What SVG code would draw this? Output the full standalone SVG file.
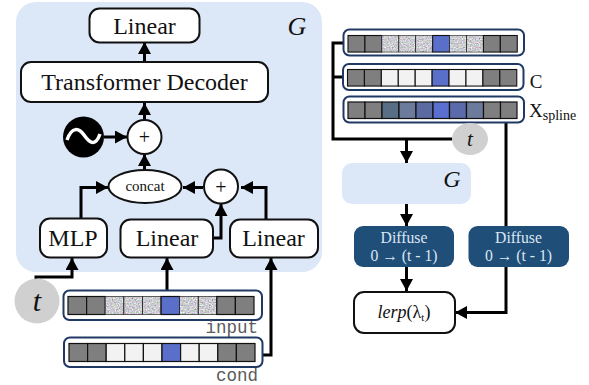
<svg xmlns="http://www.w3.org/2000/svg" width="589" height="385" viewBox="0 0 589 385">
<style>
text{font-family:"Liberation Serif","Times New Roman",serif;fill:#111;text-anchor:middle}
.box{fill:#fff;stroke:#111;stroke-width:2}
.lbl{font-size:24px}
.panel{fill:#dce7f7}
.bar{fill:#fff;stroke:#1f3864;stroke-width:2}
.cell{stroke:#111;stroke-width:1.2}
.g{fill:#7f7f7f}.w{fill:#f2f2f2}.b{fill:#5a6fc9}.n{fill:#ccc}
.e{fill:none;stroke:#222;stroke-width:.7}
.c{fill:none;stroke:#000;stroke-width:3}
.diff{fill:#1f4e79}
.dt{fill:#dce6f2;font-size:15.700px}
.mono{font-family:"Liberation Mono",monospace;font-size:17.500px;fill:#5a5a5a;text-anchor:end}
.ital{font-style:italic}
</style>
<defs>
<marker id="a" markerUnits="userSpaceOnUse" markerWidth="14" markerHeight="14" refX="12" refY="6.5" orient="auto"><path d="M0 0L12 6.5L0 13Z" fill="#000"/></marker>
<filter id="noise" x="0" y="0" width="1" height="1" color-interpolation-filters="sRGB">
<feTurbulence type="fractalNoise" baseFrequency="0.7" numOctaves="1" seed="4"/>
<feColorMatrix values="0.7 0.15 0.15 0 0.3  0.15 0.7 0.15 0 0.3  0.15 0.15 0.7 0 0.32  0 0 0 0 1"/>
<feComposite in2="SourceGraphic" operator="in"/>
</filter>
<g id="seqN">
<rect class="cell g" x="0" y="0" width="18.6" height="18"/><rect class="cell g" x="18.6" y="0" width="18.6" height="18"/>
<rect class="n" x="37.2" y="0" width="18.6" height="18" filter="url(#noise)"/><rect class="n" x="55.8" y="0" width="18.6" height="18" filter="url(#noise)"/><rect class="n" x="74.4" y="0" width="18.6" height="18" filter="url(#noise)"/>
<rect class="cell b" x="93" y="0" width="18.6" height="18"/>
<rect class="n" x="111.6" y="0" width="18.6" height="18" filter="url(#noise)"/><rect class="n" x="130.2" y="0" width="18.6" height="18" filter="url(#noise)"/>
<rect class="e" x="37.2" y="0" width="18.6" height="18"/><rect class="e" x="55.8" y="0" width="18.6" height="18"/><rect class="e" x="74.4" y="0" width="18.6" height="18"/><rect class="e" x="111.6" y="0" width="18.6" height="18"/><rect class="e" x="130.2" y="0" width="18.6" height="18"/>
<rect class="cell g" x="148.8" y="0" width="18.6" height="18"/><rect class="cell g" x="167.4" y="0" width="18.6" height="18"/>
</g>
<g id="seqC">
<rect class="cell g" x="0" y="0" width="18.6" height="18"/><rect class="cell g" x="18.6" y="0" width="18.6" height="18"/>
<rect class="cell w" x="37.2" y="0" width="18.6" height="18"/><rect class="cell w" x="55.8" y="0" width="18.6" height="18"/><rect class="cell w" x="74.4" y="0" width="18.6" height="18"/>
<rect class="cell b" x="93" y="0" width="18.6" height="18"/>
<rect class="cell w" x="111.6" y="0" width="18.6" height="18"/><rect class="cell w" x="130.2" y="0" width="18.6" height="18"/>
<rect class="cell g" x="148.8" y="0" width="18.6" height="18"/><rect class="cell g" x="167.4" y="0" width="18.6" height="18"/>
</g>
</defs>
<g id="panel-G"><rect class="panel" x="16" y="2" width="306" height="270" rx="20"/><text class="ital" x="297" y="35" font-size="26">G</text></g>
<g id="connectors">
<path class="c" d="M144.5 62V42" marker-end="url(#a)"/>
<path class="c" d="M144.5 121V103" marker-end="url(#a)"/>
<path class="c" d="M104 137H127" marker-end="url(#a)"/>
<path class="c" d="M144.5 170V154" marker-end="url(#a)"/>
<path class="c" d="M81 218V187.5H108" marker-end="url(#a)"/>
<path class="c" d="M203 187.5H183" marker-end="url(#a)"/>
<path class="c" d="M266 219V187.5H241" marker-end="url(#a)"/>
<path class="c" d="M213 238H221V204" marker-end="url(#a)"/>
<path class="c" d="M36 279V277H72V258" marker-end="url(#a)"/>
<path class="c" d="M167 290V258" marker-end="url(#a)"/>
<path class="c" d="M262 355H271V258" marker-end="url(#a)"/>
<path class="c" d="M343 43H333V139H452"/>
<path class="c" d="M333 77H343"/>
<path class="c" d="M406.500 139V163" marker-end="url(#a)"/>
<path class="c" d="M406.500 204V226" marker-end="url(#a)"/>
<path class="c" d="M406.500 267V291" marker-end="url(#a)"/>
<path class="c" d="M506 123V226"/>
<path class="c" d="M506 267V312.500H455" marker-end="url(#a)"/>
</g>
<g id="linear-top"><rect class="box" x="89.500" y="8.500" width="110" height="34" rx="10"/><text class="lbl" x="144.500" y="34">Linear</text></g>
<g id="transformer"><rect class="box" x="21" y="62" width="247" height="40" rx="10"/><text class="lbl" x="144.500" y="90">Transformer Decoder</text></g>
<g id="plus-top"><circle class="box" cx="144.500" cy="137" r="17"/><text x="144.500" y="144" font-size="20" fill="#333">+</text></g>
<g id="wave"><circle cx="83.500" cy="137" r="20.500" fill="#000"/><path d="M67 140C72 126 79 128 84 135S95 148 100 134" fill="none" stroke="#fff" stroke-width="3.500"/></g>
<g id="concat"><ellipse class="box" cx="145" cy="186.500" rx="36.500" ry="16.500"/><text x="145" y="191" font-size="15">concat</text></g>
<g id="plus-mid"><circle class="box" cx="221" cy="186.500" r="17"/><text x="221" y="193.500" font-size="20" fill="#333">+</text></g>
<g id="mlp"><rect class="box" x="40" y="218.500" width="67" height="39" rx="10"/><text class="lbl" x="73" y="246">MLP</text></g>
<g id="linear-input"><rect class="box" x="120.500" y="219.500" width="92.500" height="38" rx="10"/><text class="lbl" x="167" y="246">Linear</text></g>
<g id="linear-cond"><rect class="box" x="230" y="219.500" width="88" height="38" rx="10"/><text class="lbl" x="273.500" y="246">Linear</text></g>
<g id="t-left"><circle cx="37" cy="301" r="22.500" fill="#d0d0d0"/><text class="ital" x="37" y="311" font-size="30">t</text></g>
<g id="input"><rect class="bar" x="63.500" y="290.500" width="198.500" height="29.500" rx="6"/><use href="#seqN" x="68" y="296.500"/><text class="mono" x="258" y="333">input</text></g>
<g id="cond"><rect class="bar" x="64" y="337.500" width="198.500" height="29.500" rx="6"/><use href="#seqC" x="69" y="343.500"/><text class="mono" x="258" y="381">cond</text></g>
<g id="bar-input"><rect class="bar" x="343.500" y="29.500" width="180.500" height="26" rx="6"/><g transform="translate(348 35.500) scale(0.91 0.92)"><use href="#seqN"/></g></g>
<g id="bar-c"><rect class="bar" x="343" y="64" width="180.500" height="26" rx="6"/><g transform="translate(347.500 69.500) scale(0.91 0.92)"><use href="#seqC"/></g><text x="536" y="88" font-size="19">C</text></g>
<g id="bar-spline"><rect class="bar" x="343.500" y="96.500" width="180.500" height="26" rx="6"/>
<g class="cell"><rect class="g" x="348" y="102" width="17" height="16.500"/><rect class="g" x="365" y="102" width="17" height="16.500"/><rect fill="#586e84" x="382" y="102" width="17" height="16.500"/><rect fill="#6c7a9c" x="399" y="102" width="17" height="16.500"/><rect fill="#5b6aa0" x="416" y="102" width="17" height="16.500"/><rect fill="#5a6fcf" x="433" y="102" width="16.500" height="16.500"/><rect fill="#5b6aa8" x="449.500" y="102" width="17" height="16.500"/><rect fill="#6c7a9c" x="466.500" y="102" width="17" height="16.500"/><rect class="g" x="483.500" y="102" width="17" height="16.500"/><rect class="g" x="500.500" y="102" width="16.500" height="16.500"/></g>
<text x="529" y="117" font-size="19" style="text-anchor:start">X<tspan font-size="14" dy="3">spline</tspan></text></g>
<g id="t-right"><ellipse cx="470" cy="139" rx="18" ry="16" fill="#d0d0d0"/><text class="ital" x="470" y="146" font-size="21">t</text></g>
<g id="g-small"><rect class="panel" x="342" y="163" width="129" height="41" rx="10"/><text class="ital" x="452" y="187" font-size="24">G</text></g>
<g id="diffuse-1"><rect class="diff" x="354" y="226" width="100" height="41" rx="9"/><text class="dt" x="404" y="243">Diffuse</text><text class="dt" x="404" y="261">0 → (t - 1)</text></g>
<g id="diffuse-2"><rect class="diff" x="468.500" y="226" width="100.500" height="41" rx="9"/><text class="dt" x="518.500" y="243">Diffuse</text><text class="dt" x="518.500" y="261">0 → (t - 1)</text></g>
<g id="lerp"><rect class="box" x="354" y="292" width="101" height="41" rx="10"/><text x="404" y="318" font-size="18"><tspan class="ital">lerp</tspan>(λ<tspan font-size="11" dy="3">t</tspan><tspan dy="-3">)</tspan></text></g>
</svg>
